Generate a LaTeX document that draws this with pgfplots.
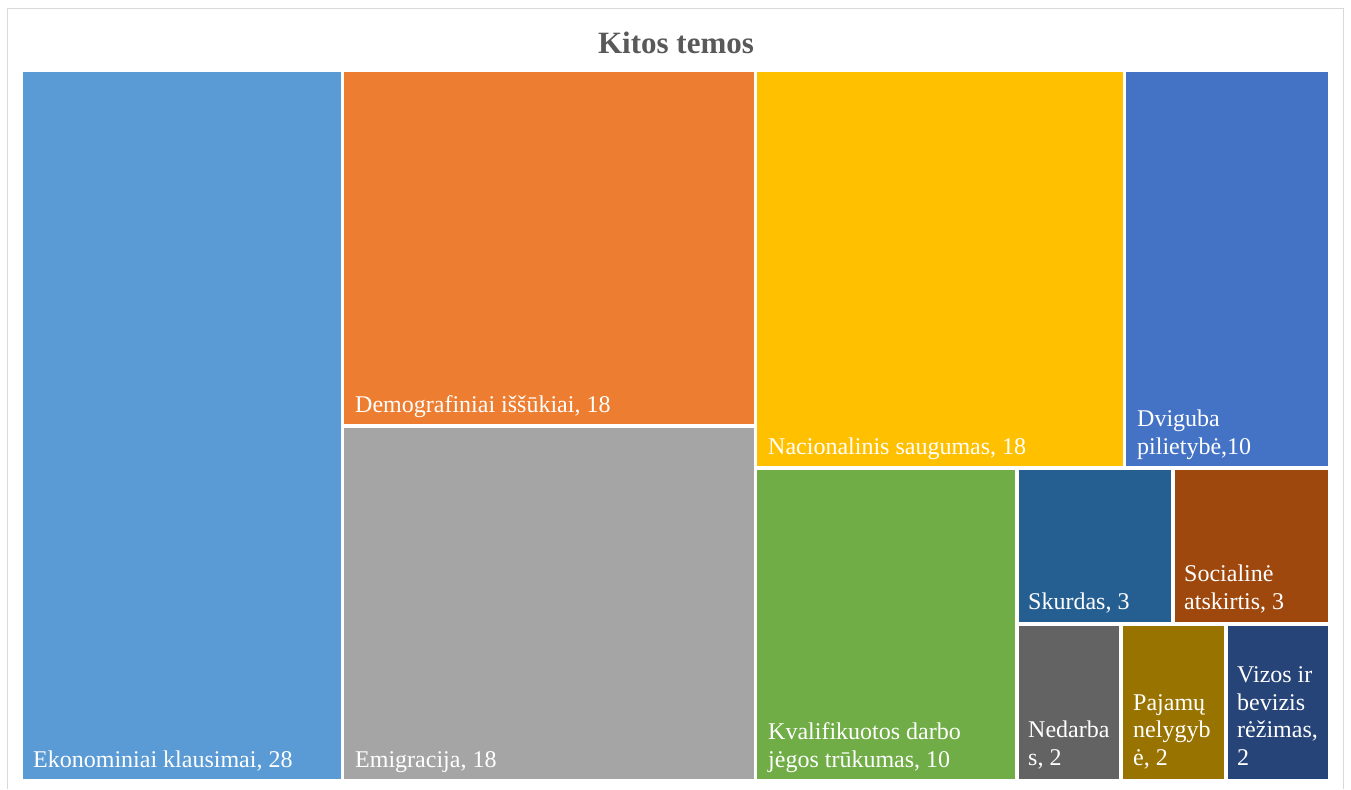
\documentclass[border=0pt]{standalone}
\usepackage{pgfplots}
\pgfplotsset{compat=1.18}
\usepackage{fontspec}
\setmainfont{Liberation Serif}

\definecolor{c1}{HTML}{5B9BD5}
\definecolor{c2}{HTML}{ED7D31}
\definecolor{c3}{HTML}{A5A5A5}
\definecolor{c4}{HTML}{FFC000}
\definecolor{c5}{HTML}{4472C4}
\definecolor{c6}{HTML}{70AD47}
\definecolor{c7}{HTML}{255E91}
\definecolor{c8}{HTML}{9E480E}
\definecolor{c9}{HTML}{636363}
\definecolor{c10}{HTML}{997300}
\definecolor{c11}{HTML}{264478}
\definecolor{titlegray}{HTML}{595959}
\definecolor{framegray}{HTML}{D9D9D9}

% tile label: last baseline at given point
\newcommand{\lab}[3]{\node[anchor=base west, inner sep=0pt, text=white, font=\fontsize{24}{27.5}\selectfont]
  at (axis cs:#1,#2) {\begin{tabular}[b]{@{}l@{}}#3\end{tabular}};}

\begin{document}
\begin{tikzpicture}
\begin{axis}[
    width=1351pt, height=789pt, scale only axis,
    xmin=0, xmax=1351, ymin=0, ymax=789,
    y dir=reverse, hide axis, clip=false,
  ]
  % background and frame
  \addplot[draw=none, fill=white] coordinates {(0,0) (1351,0) (1351,789) (0,789)} --cycle;
  \addplot[framegray, line width=1.2pt] coordinates {(7.5,789) (7.5,8.5) (1343.5,8.5) (1343.5,789)};

  % tiles: x0 y0 x1 y1 in pixel units
  \addplot[draw=none, fill=c1]  coordinates {(23,72) (341,72) (341,779) (23,779)} --cycle;
  \addplot[draw=none, fill=c2]  coordinates {(344,72) (754,72) (754,424) (344,424)} --cycle;
  \addplot[draw=none, fill=c3]  coordinates {(344,428) (754,428) (754,779) (344,779)} --cycle;
  \addplot[draw=none, fill=c4]  coordinates {(757,72) (1123,72) (1123,466) (757,466)} --cycle;
  \addplot[draw=none, fill=c5]  coordinates {(1126,72) (1328,72) (1328,466) (1126,466)} --cycle;
  \addplot[draw=none, fill=c6]  coordinates {(757,470) (1015,470) (1015,779) (757,779)} --cycle;
  \addplot[draw=none, fill=c7]  coordinates {(1019,470) (1171,470) (1171,622) (1019,622)} --cycle;
  \addplot[draw=none, fill=c8]  coordinates {(1175,470) (1328,470) (1328,622) (1175,622)} --cycle;
  \addplot[draw=none, fill=c9]  coordinates {(1019,626) (1119,626) (1119,779) (1019,779)} --cycle;
  \addplot[draw=none, fill=c10] coordinates {(1123,626) (1224,626) (1224,779) (1123,779)} --cycle;
  \addplot[draw=none, fill=c11] coordinates {(1228,626) (1328,626) (1328,779) (1228,779)} --cycle;

  \node[anchor=base, inner sep=0pt, text=titlegray, font=\fontsize{31}{36}\selectfont\bfseries]
    at (axis cs:676,53) {Kitos temos};

  \lab{33}{767}{Ekonominiai klausimai, 28}
  \lab{355}{412}{Demografiniai iššūkiai, 18}
  \lab{355}{767}{Emigracija, 18}
  \lab{768}{454}{Nacionalinis saugumas, 18}
  \lab{1137}{454}{Dviguba\\pilietybė,10}
  \lab{768}{767}{Kvalifikuotos darbo\\jėgos trūkumas, 10}
  \lab{1028}{609}{Skurdas, 3}
  \lab{1184}{609}{Socialinė\\atskirtis, 3}
  \lab{1028}{765}{Nedarba\\s, 2}
  \lab{1133}{765}{Pajamų\\nelygyb\\ė, 2}
  \lab{1237}{765}{Vizos ir\\bevizis\\rėžimas,\\2}
\end{axis}
\end{tikzpicture}
\end{document}
